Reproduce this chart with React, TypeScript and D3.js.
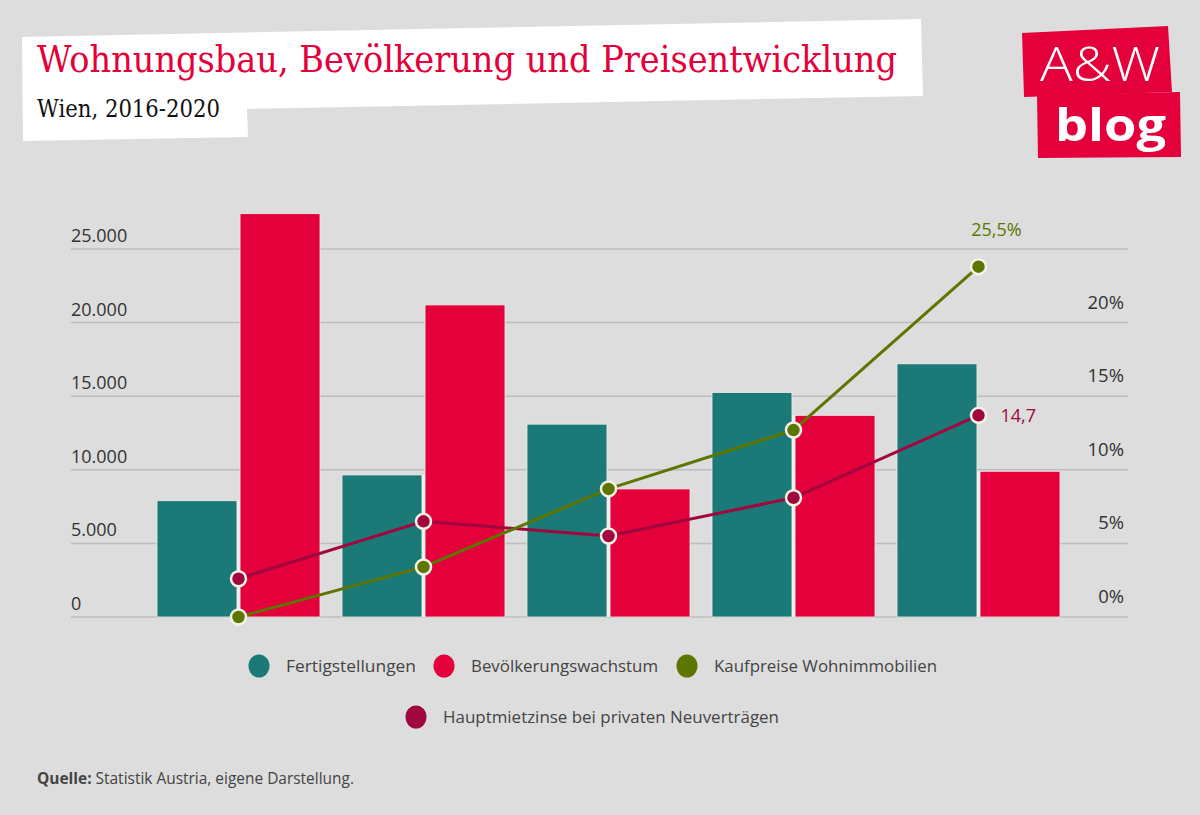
import React from "react";
import * as d3 from "d3";

const years = ["2016", "2017", "2018", "2019", "2020"];
const fertigstellungen = [7900, 9650, 13100, 15250, 17200];
const bevoelkerung = [27400, 21200, 8700, 13700, 9900];
const kaufpreise = [0, 3.4, 8.7, 12.7, 23.8];
const hauptmietzinse = [2.6, 6.5, 5.5, 8.1, 13.7];
const leftTicks = [0, 5000, 10000, 15000, 20000, 25000];
const leftTickLabels = ["0", "5.000", "10.000", "15.000", "20.000", "25.000"];
const rightTicks = [0, 5, 10, 15, 20];
const rightTickLabels = ["0%", "5%", "10%", "15%", "20%"];
const endLabels = { kauf: "25,5%", haupt: "14,7" };

const seriesNames = [
  "Fertigstellungen",
  "Bevölkerungswachstum",
  "Kaufpreise Wohnimmobilien",
  "Hauptmietzinse bei privaten Neuverträgen",
];
const colors = ["#1b7a78", "#e4003a", "#5c7600", "#a0073f"];

const W = 1200;
const H = 815;
const SANS = "'Open Sans', 'Noto Sans', sans-serif";

export default function App() {
  const y = d3.scaleLinear().domain([0, 25000]).range([617, 249]);
  const yR = d3.scaleLinear().domain([0, 25]).range([617, 249]);
  const x0 = d3
    .scaleBand<string>()
    .domain(years)
    .range([146, 1071])
    .paddingInner(0.119)
    .paddingOuter(0.0595);
  const x1 = d3
    .scaleBand<string>()
    .domain(["f", "b"])
    .range([0, x0.bandwidth()])
    .paddingInner(0.037);
  const cx = (i: number) => (x0(years[i]) as number) + x0.bandwidth() / 2;

  const line = d3
    .line<number>()
    .x((_, i) => cx(i))
    .y((d) => yR(d));

  const legend = [
    { c: colors[0], t: seriesNames[0], x: 259, y: 666, w: 130 },
    { c: colors[1], t: seriesNames[1], x: 444, y: 666, w: 187 },
    { c: colors[2], t: seriesNames[2], x: 687, y: 666, w: 223 },
    { c: colors[3], t: seriesNames[3], x: 416, y: 717, w: 336 },
  ];

  return (
    <svg
      width={W}
      height={H}
      style={{ position: "absolute", left: 0, top: 0, display: "block" }}
    >
      <rect x={0} y={0} width={W} height={H} fill="#dddddd" />

      {/* Title banner */}
      <polygon
        points="22,37 921,19 923,96 247,109 248,137 23,141"
        fill="#ffffff"
      />
      <text
        x={37}
        y={72}
        fontFamily="'DejaVu Serif', serif"
        fontSize={38}
        fill="#e4003a"
        textLength={860}
        lengthAdjust="spacingAndGlyphs"
      >
        Wohnungsbau, Bevölkerung und Preisentwicklung
      </text>
      <text
        x={37}
        y={117}
        fontFamily="'DejaVu Serif', serif"
        fontSize={25}
        fill="#111"
        textLength={183}
        lengthAdjust="spacingAndGlyphs"
      >
        Wien, 2016-2020
      </text>

      {/* Logo */}
      <polygon points="1022,33 1168,26 1172,92 1024,97" fill="#e4003a" />
      <polygon points="1037,95 1180,92 1181,157 1038,158" fill="#e4003a" />
      <text
        x={1040}
        y={81}
        fontFamily="'Open Sans', sans-serif"
        fontWeight={300}
        fontSize={48}
        fill="#fff"
        textLength={120}
        lengthAdjust="spacingAndGlyphs"
      >
        A&amp;W
      </text>
      <text
        x={1055}
        y={141}
        fontFamily="'Open Sans', sans-serif"
        fontWeight={700}
        fontSize={45}
        fill="#fff"
        textLength={111}
        lengthAdjust="spacingAndGlyphs"
      >
        blog
      </text>

      {/* Gridlines */}
      {leftTicks.map((t) => (
        <line
          key={t}
          x1={71}
          x2={1128}
          y1={y(t)}
          y2={y(t)}
          stroke="#bdbdbd"
          strokeWidth={1.5}
        />
      ))}
      {leftTicks.map((t, i) => (
        <text
          key={"l" + t}
          x={71}
          y={y(t) - 7}
          fontFamily={SANS}
          fontSize={18}
          fill="#333"
        >
          {leftTickLabels[i]}
        </text>
      ))}
      {rightTicks.map((t, i) => (
        <text
          key={"r" + t}
          x={1124}
          y={yR(t) - 14}
          textAnchor="end"
          fontFamily={SANS}
          fontSize={18.5}
          fill="#333"
        >
          {rightTickLabels[i]}
        </text>
      ))}

      {/* Bars */}
      {years.map((yr, i) => (
        <g key={yr} transform={`translate(${x0(yr)},0)`}>
          <rect
            x={x1("f")}
            y={y(fertigstellungen[i])}
            width={x1.bandwidth()}
            height={y(0) - y(fertigstellungen[i])}
            fill={colors[0]}
            stroke="#eeeeea"
            strokeWidth={0.8}
          />
          <rect
            x={x1("b")}
            y={y(bevoelkerung[i])}
            width={x1.bandwidth()}
            height={y(0) - y(bevoelkerung[i])}
            fill={colors[1]}
            stroke="#eeeeea"
            strokeWidth={0.8}
          />
          <line
            x1={x0.bandwidth() / 2}
            x2={x0.bandwidth() / 2}
            y1={y(0)}
            y2={Math.max(y(fertigstellungen[i]), y(bevoelkerung[i]))}
            stroke="#f3f3ee"
            strokeWidth={2.5}
          />
        </g>
      ))}

      {/* Lines */}
      <path
        d={line(hauptmietzinse) as string}
        fill="none"
        stroke={colors[3]}
        strokeWidth={3}
      />
      <path
        d={line(kaufpreise) as string}
        fill="none"
        stroke={colors[2]}
        strokeWidth={3}
      />
      {hauptmietzinse.map((v, i) => (
        <circle
          key={"h" + i}
          cx={cx(i)}
          cy={yR(v)}
          r={7.5}
          fill={colors[3]}
          stroke="#f5f3e6"
          strokeWidth={2.5}
        />
      ))}
      {kaufpreise.map((v, i) => (
        <circle
          key={"k" + i}
          cx={cx(i)}
          cy={yR(v)}
          r={7.5}
          fill={colors[2]}
          stroke="#f5f3e6"
          strokeWidth={2.5}
        />
      ))}
      <text
        x={cx(4) + 18}
        y={yR(kaufpreise[4]) - 31}
        textAnchor="middle"
        fontFamily={SANS}
        fontSize={18}
        fill={colors[2]}
      >
        {endLabels.kauf}
      </text>
      <text
        x={cx(4) + 22}
        y={yR(hauptmietzinse[4]) + 7}
        fontFamily={SANS}
        fontSize={18}
        fill={colors[3]}
      >
        {endLabels.haupt}
      </text>

      {/* Legend */}
      {legend.map((l) => (
        <g key={l.t}>
          <ellipse cx={l.x} cy={l.y} rx={10.5} ry={11.5} fill={l.c} />
          <text
            x={l.x + 27}
            y={l.y + 6}
            fontFamily={SANS}
            fontSize={17}
            fill="#444"
            textLength={l.w}
            lengthAdjust="spacingAndGlyphs"
          >
            {l.t}
          </text>
        </g>
      ))}

      {/* Source */}
      <text
        x={37}
        y={784}
        fontFamily={SANS}
        fontSize={15.5}
        fill="#444"
        textLength={317}
        lengthAdjust="spacingAndGlyphs"
      >
        <tspan fontWeight={700}>Quelle:</tspan> Statistik Austria, eigene
        Darstellung.
      </text>
    </svg>
  );
}
